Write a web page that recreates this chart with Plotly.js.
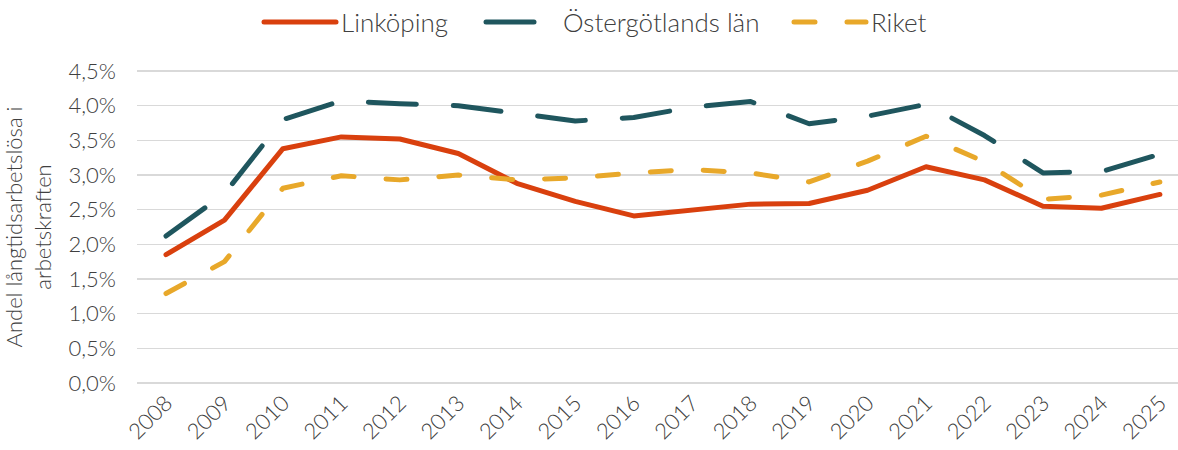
<!DOCTYPE html>
<html><head><meta charset="utf-8">
<script src="https://cdn.plot.ly/plotly-3.0.1.min.js"></script>
<style>
body{margin:0;background:#fff}
#chart .scatterlayer .js-line, #chart .legendlines path { stroke-linecap: round; stroke-linejoin: round; }
</style></head><body>
<div id="chart" style="width:1178px;height:450px"></div>
<script>
const years = ['2008','2009','2010','2011','2012','2013','2014','2015','2016','2017','2018','2019','2020','2021','2022','2023','2024','2025'];
const linkoping    = [1.85,2.35,3.38,3.55,3.52,3.31,2.88,2.62,2.41,2.50,2.58,2.59,2.78,3.12,2.93,2.55,2.52,2.72];
const ostergotland = [2.12,2.73,3.80,4.07,4.03,4.00,3.89,3.78,3.83,3.98,4.06,3.74,3.85,4.02,3.57,3.03,3.05,3.30];
const riket        = [1.29,1.75,2.81,2.99,2.93,3.00,2.93,2.96,3.03,3.08,3.03,2.90,3.20,3.56,3.19,2.65,2.71,2.90];
const seriesNames = ['Linköping','Östergötlands län','Riket'];
const yTickVals = [0,0.5,1,1.5,2,2.5,3,3.5,4,4.5];
const yTickText = yTickVals.map(v => v.toFixed(1).replace('.', ',') + '%');
const yTitle = 'Andel långtidsarbetslösa i<br>arbetskraften';

const FONT = 'Lato, "Open Sans", sans-serif';
const TXT = '#404040';
const W = 1178;

const traces = [
  {x: years, y: linkoping, name: seriesNames[0], legend: 'legend', mode: 'lines', line: {color: '#D9400E', width: 5}},
  {x: years, y: ostergotland, name: seriesNames[1], legend: 'legend2', mode: 'lines', line: {color: '#1F565E', width: 5, dash: '48px,37px'}},
  {x: years, y: riket, name: seriesNames[2], legend: 'legend3', mode: 'lines', line: {color: '#E8A82A', width: 5, dash: '21px,32px'}}
];

function leg(px) {
  return {orientation: 'h', xref: 'container', x: px / W, xanchor: 'left', yref: 'container', y: 0.951, yanchor: 'middle',
          font: {size: 26, family: FONT, color: TXT, weight: 300}, itemwidth: 72, bgcolor: 'rgba(0,0,0,0)'};
}

const layout = {
  width: 1178, height: 450,
  margin: {l: 137, r: 0, t: 69, b: 65},
  paper_bgcolor: '#fff', plot_bgcolor: '#fff',
  font: {family: FONT, color: TXT, size: 22, weight: 300},
  showlegend: true,
  legend: leg(259), legend2: leg(481), legend3: leg(789),
  xaxis: {type: 'category', range: [-0.496, 17.31], tickangle: -45, showgrid: false, zeroline: false, showline: false,
          ticks: '', tickfont: {size: 22, family: FONT, color: TXT, weight: 300}, fixedrange: true},
  yaxis: {range: [-0.03, 4.53], tickmode: 'array', tickvals: yTickVals, ticktext: yTickText, showgrid: true,
          gridcolor: '#D9D9D9', gridwidth: 1.5, zeroline: false, showline: false, ticks: '',
          ticklabelstandoff: 20, tickfont: {size: 22, family: FONT, color: TXT, weight: 300},
          title: {text: yTitle, standoff: 18, font: {size: 22, family: FONT, color: TXT, weight: 300}}, fixedrange: true},
  separators: ', '
};

Plotly.newPlot('chart', traces, layout, {displayModeBar: false, staticPlot: true});
</script>
</body></html>
